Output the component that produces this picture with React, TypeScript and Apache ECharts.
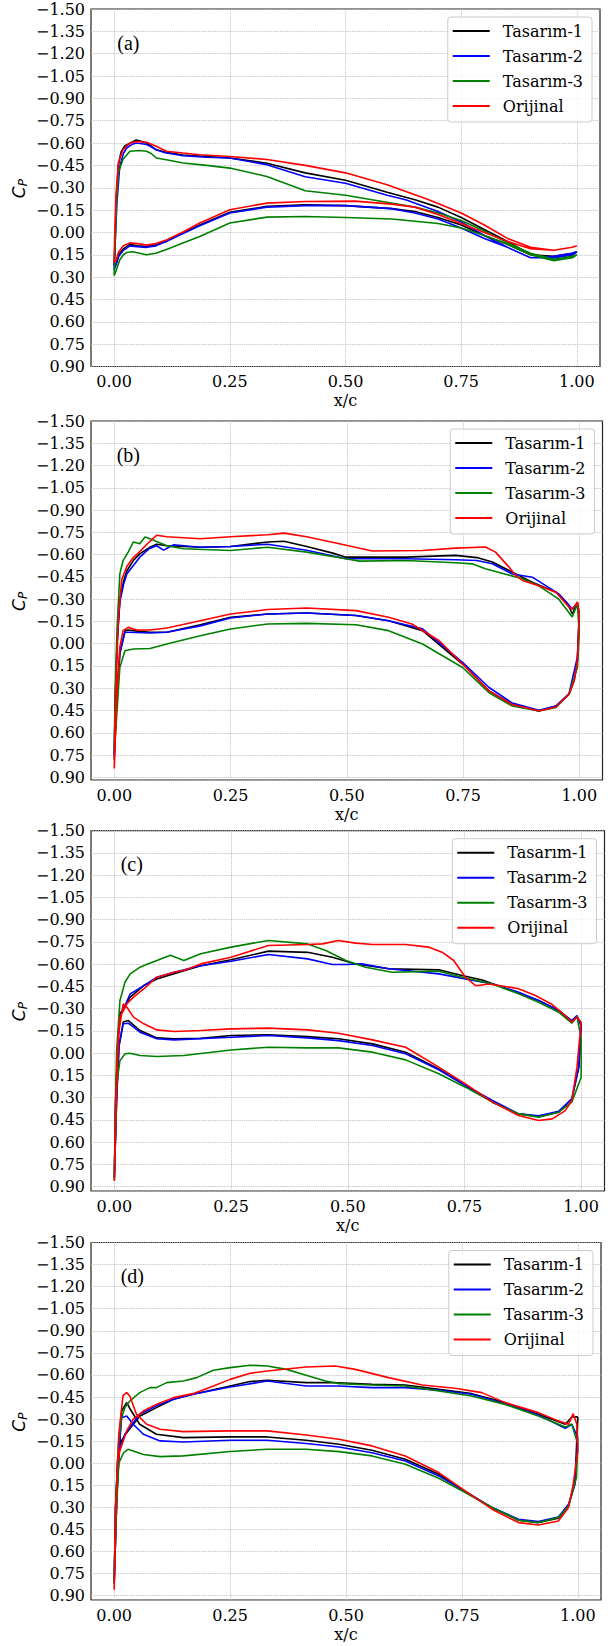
import React, { useEffect, useRef } from "react";
import * as echarts from "echarts";

// ---------- categories / labels ----------
const seriesNames = ["Tasarım-1", "Tasarım-2", "Tasarım-3", "Orijinal"];
const seriesColors = ["#000000", "#0000ff", "#008000", "#ff0000"];
const panelLabels = ["(a)", "(b)", "(c)", "(d)"];
const xTicks = [0, 0.25, 0.5, 0.75, 1.0];
const xMin = -0.05;
const xMax = 1.05;
const yMin = -1.5;
const yStep = 0.15;
const yMaxes = [0.9, 0.918, 0.929, 0.929];

// ---------- panel (a) ----------
const aT1Up = [[0.002,0.05],[0.005,-0.25],[0.009,-0.45],[0.015,-0.54],[0.023,-0.58],[0.035,-0.6],[0.048,-0.62],[0.06,-0.61],[0.07,-0.6],[0.08,-0.58],[0.091,-0.555],[0.11,-0.54],[0.149,-0.52],[0.2,-0.51],[0.25,-0.5],[0.33,-0.465],[0.413,-0.4],[0.5,-0.35],[0.59,-0.27],[0.65,-0.22],[0.7,-0.17],[0.75,-0.1],[0.8,-0.02],[0.85,0.06],[0.9,0.15],[0.95,0.16],[0.99,0.14],[1.0,0.13]];
const aT1Lo = [[0.0,0.22],[0.004,0.21],[0.01,0.15],[0.02,0.11],[0.034,0.08],[0.05,0.09],[0.07,0.095],[0.09,0.085],[0.113,0.06],[0.15,0.0],[0.185,-0.05],[0.25,-0.135],[0.33,-0.175],[0.413,-0.185],[0.5,-0.18],[0.6,-0.16],[0.65,-0.14],[0.7,-0.1],[0.75,-0.05],[0.8,0.02],[0.85,0.08],[0.9,0.15],[0.95,0.17],[0.99,0.15],[1.0,0.13]];
const aT2Up = [[0.002,0.08],[0.006,-0.2],[0.012,-0.44],[0.02,-0.53],[0.027,-0.567],[0.038,-0.59],[0.048,-0.6],[0.06,-0.595],[0.07,-0.59],[0.08,-0.575],[0.091,-0.555],[0.11,-0.535],[0.149,-0.515],[0.2,-0.505],[0.25,-0.5],[0.33,-0.455],[0.413,-0.374],[0.5,-0.33],[0.59,-0.25],[0.63,-0.22],[0.7,-0.14],[0.75,-0.07],[0.8,0.02],[0.85,0.1],[0.9,0.17],[0.95,0.16],[0.99,0.14],[1.0,0.13]];
const aT2Lo = [[0.0,0.25],[0.004,0.22],[0.01,0.16],[0.02,0.12],[0.034,0.09],[0.05,0.095],[0.07,0.1],[0.09,0.09],[0.113,0.06],[0.15,0.005],[0.185,-0.045],[0.25,-0.13],[0.33,-0.17],[0.413,-0.18],[0.5,-0.18],[0.6,-0.16],[0.65,-0.13],[0.7,-0.09],[0.75,-0.03],[0.8,0.04],[0.85,0.1],[0.9,0.17],[0.95,0.17],[0.99,0.15],[1.0,0.13]];
const aT3Up = [[0.002,0.1],[0.005,-0.2],[0.009,-0.4],[0.019,-0.49],[0.034,-0.545],[0.055,-0.55],[0.07,-0.545],[0.08,-0.53],[0.091,-0.5],[0.11,-0.49],[0.149,-0.466],[0.2,-0.45],[0.25,-0.432],[0.33,-0.376],[0.413,-0.28],[0.5,-0.25],[0.557,-0.22],[0.65,-0.17],[0.7,-0.13],[0.75,-0.08],[0.8,-0.01],[0.85,0.07],[0.9,0.14],[0.95,0.18],[0.99,0.16],[1.0,0.15]];
const aT3Lo = [[0.0,0.29],[0.005,0.25],[0.012,0.185],[0.02,0.15],[0.027,0.135],[0.04,0.13],[0.07,0.15],[0.09,0.14],[0.113,0.115],[0.15,0.07],[0.185,0.027],[0.25,-0.063],[0.33,-0.103],[0.413,-0.107],[0.5,-0.1],[0.6,-0.09],[0.7,-0.06],[0.75,-0.03],[0.8,0.02],[0.85,0.08],[0.9,0.15],[0.95,0.19],[0.99,0.17],[1.0,0.15]];
const aOrUp = [[0.001,0.05],[0.004,-0.25],[0.009,-0.466],[0.019,-0.555],[0.034,-0.6],[0.048,-0.61],[0.07,-0.605],[0.091,-0.578],[0.113,-0.545],[0.149,-0.533],[0.185,-0.522],[0.25,-0.51],[0.33,-0.49],[0.413,-0.45],[0.5,-0.4],[0.59,-0.32],[0.68,-0.22],[0.75,-0.13],[0.8,-0.05],[0.85,0.04],[0.9,0.1],[0.95,0.12],[0.99,0.1],[1.0,0.09]];
const aOrLo = [[0.0,0.2],[0.004,0.19],[0.01,0.13],[0.02,0.09],[0.034,0.07],[0.05,0.075],[0.07,0.085],[0.09,0.075],[0.113,0.05],[0.15,-0.005],[0.185,-0.063],[0.25,-0.152],[0.33,-0.197],[0.413,-0.208],[0.52,-0.21],[0.6,-0.19],[0.65,-0.17],[0.7,-0.12],[0.75,-0.06],[0.8,0.0],[0.85,0.06],[0.9,0.11],[0.95,0.12],[0.99,0.1],[1.0,0.09]];

// ---------- panel (b) ----------
const bT1Up = [[0.002,0.4],[0.006,0.0],[0.012,-0.3],[0.02,-0.42],[0.027,-0.49],[0.041,-0.56],[0.055,-0.605],[0.077,-0.65],[0.091,-0.67],[0.113,-0.66],[0.185,-0.65],[0.25,-0.655],[0.33,-0.685],[0.365,-0.69],[0.414,-0.655],[0.47,-0.61],[0.498,-0.583],[0.555,-0.583],[0.627,-0.583],[0.734,-0.595],[0.78,-0.58],[0.813,-0.55],[0.856,-0.482],[0.899,-0.414],[0.95,-0.347],[0.975,-0.27],[0.985,-0.2],[0.996,-0.28],[1.0,-0.2]];
const bT1Lo = [[0.0,0.78],[0.005,0.4],[0.012,0.07],[0.023,-0.088],[0.03,-0.092],[0.05,-0.085],[0.077,-0.077],[0.113,-0.077],[0.185,-0.128],[0.25,-0.178],[0.33,-0.2],[0.414,-0.207],[0.52,-0.19],[0.59,-0.155],[0.663,-0.088],[0.749,0.137],[0.806,0.318],[0.856,0.41],[0.913,0.453],[0.95,0.42],[0.978,0.34],[0.989,0.25],[0.996,0.115],[1.0,-0.2]];
const bT2Up = [[0.002,0.4],[0.006,0.0],[0.012,-0.28],[0.02,-0.4],[0.027,-0.47],[0.055,-0.583],[0.075,-0.64],[0.091,-0.66],[0.106,-0.63],[0.128,-0.667],[0.185,-0.65],[0.25,-0.655],[0.33,-0.67],[0.414,-0.63],[0.498,-0.572],[0.627,-0.572],[0.734,-0.565],[0.78,-0.56],[0.813,-0.538],[0.856,-0.47],[0.899,-0.448],[0.956,-0.336],[0.985,-0.234],[0.996,-0.268],[1.0,-0.18]];
const bT2Lo = [[0.0,0.75],[0.005,0.38],[0.012,0.06],[0.023,-0.077],[0.03,-0.077],[0.077,-0.072],[0.113,-0.077],[0.185,-0.12],[0.25,-0.173],[0.33,-0.2],[0.414,-0.207],[0.52,-0.19],[0.59,-0.155],[0.663,-0.1],[0.749,0.126],[0.806,0.295],[0.856,0.4],[0.913,0.448],[0.95,0.42],[0.978,0.336],[0.996,0.09],[1.0,-0.18]];
const bT3Up = [[0.002,0.3],[0.006,-0.1],[0.012,-0.47],[0.019,-0.56],[0.03,-0.617],[0.041,-0.685],[0.055,-0.673],[0.066,-0.718],[0.077,-0.707],[0.113,-0.66],[0.149,-0.64],[0.25,-0.628],[0.33,-0.65],[0.414,-0.617],[0.498,-0.572],[0.527,-0.556],[0.627,-0.56],[0.734,-0.545],[0.77,-0.538],[0.798,-0.505],[0.84,-0.47],[0.878,-0.437],[0.913,-0.39],[0.956,-0.3],[0.985,-0.18],[0.996,-0.268],[1.0,-0.065]];
const bT3Lo = [[0.0,0.72],[0.005,0.5],[0.012,0.16],[0.023,0.047],[0.041,0.036],[0.077,0.032],[0.113,0.002],[0.185,-0.054],[0.25,-0.099],[0.33,-0.133],[0.414,-0.137],[0.52,-0.128],[0.59,-0.088],[0.663,0.002],[0.749,0.16],[0.806,0.33],[0.856,0.42],[0.913,0.453],[0.95,0.43],[0.978,0.34],[0.996,0.16],[1.0,-0.065]];
const bOrUp = [[0.002,0.5],[0.005,0.16],[0.009,-0.18],[0.016,-0.43],[0.027,-0.52],[0.041,-0.58],[0.055,-0.62],[0.07,-0.67],[0.091,-0.73],[0.113,-0.72],[0.149,-0.714],[0.185,-0.707],[0.25,-0.72],[0.33,-0.734],[0.365,-0.745],[0.414,-0.72],[0.484,-0.673],[0.555,-0.624],[0.663,-0.628],[0.734,-0.644],[0.798,-0.651],[0.82,-0.617],[0.849,-0.516],[0.863,-0.46],[0.878,-0.426],[0.913,-0.39],[0.95,-0.347],[0.978,-0.245],[0.985,-0.234],[0.996,-0.28],[1.0,-0.2]];
const bOrLo = [[0.0,0.84],[0.005,0.385],[0.012,0.025],[0.019,-0.088],[0.03,-0.11],[0.048,-0.092],[0.077,-0.092],[0.113,-0.106],[0.185,-0.155],[0.25,-0.2],[0.33,-0.23],[0.414,-0.24],[0.52,-0.223],[0.59,-0.178],[0.64,-0.133],[0.699,-0.02],[0.749,0.137],[0.806,0.318],[0.856,0.41],[0.913,0.453],[0.95,0.426],[0.978,0.34],[0.989,0.25],[0.996,0.115],[1.0,-0.2]];

// ---------- panel (c) ----------
const cT1Up = [[0.003,0.3],[0.008,-0.1],[0.012,-0.265],[0.034,-0.378],[0.063,-0.456],[0.091,-0.5],[0.128,-0.535],[0.185,-0.59],[0.25,-0.63],[0.33,-0.688],[0.414,-0.68],[0.467,-0.647],[0.517,-0.602],[0.588,-0.569],[0.695,-0.562],[0.745,-0.524],[0.788,-0.494],[0.852,-0.422],[0.909,-0.355],[0.952,-0.288],[0.98,-0.209],[0.991,-0.247],[1.0,-0.2]];
const cT1Lo = [[0.0,0.84],[0.005,0.3],[0.01,-0.05],[0.019,-0.21],[0.03,-0.22],[0.055,-0.153],[0.091,-0.103],[0.128,-0.097],[0.185,-0.1],[0.25,-0.119],[0.33,-0.124],[0.414,-0.112],[0.48,-0.097],[0.553,-0.063],[0.624,-0.007],[0.695,0.106],[0.752,0.218],[0.81,0.33],[0.866,0.409],[0.909,0.427],[0.952,0.398],[0.98,0.308],[0.995,0.094],[1.0,-0.2]];
const cT2Up = [[0.003,0.3],[0.008,-0.1],[0.012,-0.243],[0.034,-0.4],[0.063,-0.456],[0.091,-0.512],[0.128,-0.546],[0.185,-0.59],[0.25,-0.62],[0.33,-0.665],[0.414,-0.636],[0.467,-0.598],[0.496,-0.598],[0.53,-0.602],[0.588,-0.569],[0.695,-0.535],[0.752,-0.501],[0.81,-0.467],[0.866,-0.411],[0.909,-0.355],[0.952,-0.288],[0.98,-0.22],[0.991,-0.254],[1.0,-0.18]];
const cT2Lo = [[0.0,0.84],[0.005,0.3],[0.01,-0.05],[0.019,-0.198],[0.03,-0.202],[0.055,-0.142],[0.091,-0.097],[0.128,-0.09],[0.25,-0.108],[0.33,-0.119],[0.414,-0.103],[0.48,-0.085],[0.553,-0.052],[0.624,0.004],[0.695,0.112],[0.752,0.218],[0.81,0.319],[0.866,0.409],[0.909,0.422],[0.952,0.391],[0.98,0.308],[0.995,0.094],[1.0,-0.18]];
const cT3Up = [[0.002,0.4],[0.005,-0.02],[0.012,-0.355],[0.023,-0.48],[0.034,-0.535],[0.055,-0.58],[0.07,-0.6],[0.091,-0.625],[0.12,-0.66],[0.149,-0.625],[0.185,-0.67],[0.25,-0.715],[0.33,-0.76],[0.414,-0.737],[0.453,-0.692],[0.496,-0.625],[0.538,-0.58],[0.595,-0.546],[0.695,-0.553],[0.745,-0.512],[0.81,-0.467],[0.866,-0.4],[0.909,-0.344],[0.952,-0.276],[0.98,-0.202],[0.991,-0.247],[1.0,-0.1]];
const cT3Lo = [[0.0,0.86],[0.005,0.207],[0.012,0.05],[0.023,0.004],[0.034,0.0],[0.055,0.016],[0.091,0.022],[0.149,0.016],[0.25,-0.022],[0.33,-0.04],[0.414,-0.036],[0.48,-0.036],[0.553,-0.007],[0.624,0.045],[0.695,0.139],[0.752,0.229],[0.81,0.33],[0.866,0.409],[0.909,0.431],[0.952,0.398],[0.98,0.33],[1.0,0.162],[1.0,-0.1]];
const cOrUp = [[0.003,0.3],[0.008,-0.1],[0.012,-0.243],[0.027,-0.333],[0.041,-0.378],[0.063,-0.434],[0.091,-0.512],[0.128,-0.546],[0.149,-0.557],[0.185,-0.602],[0.25,-0.647],[0.33,-0.726],[0.414,-0.733],[0.446,-0.737],[0.48,-0.76],[0.517,-0.742],[0.553,-0.733],[0.624,-0.733],[0.674,-0.715],[0.702,-0.681],[0.727,-0.625],[0.752,-0.512],[0.774,-0.456],[0.78,-0.456],[0.802,-0.467],[0.838,-0.45],[0.866,-0.434],[0.902,-0.389],[0.938,-0.328],[0.966,-0.254],[0.98,-0.209],[0.991,-0.243],[1.0,-0.209]];
const cOrLo = [[0.0,0.86],[0.005,0.2],[0.01,-0.15],[0.019,-0.333],[0.027,-0.31],[0.041,-0.243],[0.063,-0.198],[0.091,-0.157],[0.128,-0.146],[0.185,-0.153],[0.25,-0.164],[0.33,-0.169],[0.414,-0.157],[0.48,-0.135],[0.553,-0.09],[0.624,-0.04],[0.695,0.094],[0.752,0.207],[0.81,0.33],[0.866,0.42],[0.909,0.454],[0.938,0.443],[0.966,0.387],[0.98,0.319],[0.991,0.094],[1.0,-0.209]];

// ---------- panel (d) ----------
const dT1Up = [[0.003,0.3],[0.008,-0.05],[0.015,-0.15],[0.027,-0.208],[0.055,-0.32],[0.091,-0.378],[0.128,-0.435],[0.17,-0.469],[0.25,-0.525],[0.293,-0.555],[0.33,-0.564],[0.414,-0.548],[0.47,-0.548],[0.556,-0.537],[0.628,-0.532],[0.7,-0.503],[0.771,-0.473],[0.843,-0.412],[0.915,-0.333],[0.973,-0.265],[0.987,-0.315],[1.0,-0.315]];
const dT1Lo = [[0.0,0.82],[0.006,0.2],[0.012,-0.15],[0.016,-0.355],[0.027,-0.412],[0.037,-0.355],[0.055,-0.265],[0.091,-0.197],[0.149,-0.174],[0.25,-0.179],[0.33,-0.179],[0.414,-0.156],[0.485,-0.129],[0.556,-0.088],[0.628,-0.027],[0.7,0.075],[0.757,0.192],[0.815,0.301],[0.872,0.387],[0.915,0.403],[0.958,0.374],[0.98,0.29],[0.994,0.12],[1.0,-0.315]];
const dT2Up = [[0.003,0.3],[0.008,-0.05],[0.015,-0.12],[0.023,-0.197],[0.055,-0.333],[0.091,-0.39],[0.128,-0.435],[0.17,-0.469],[0.25,-0.518],[0.33,-0.559],[0.414,-0.525],[0.485,-0.525],[0.556,-0.514],[0.628,-0.514],[0.7,-0.496],[0.771,-0.469],[0.843,-0.405],[0.915,-0.328],[0.973,-0.238],[0.987,-0.265],[1.0,-0.174]];
const dT2Lo = [[0.0,0.8],[0.006,0.2],[0.012,-0.15],[0.016,-0.31],[0.027,-0.321],[0.041,-0.265],[0.063,-0.197],[0.099,-0.152],[0.149,-0.145],[0.25,-0.156],[0.33,-0.156],[0.414,-0.134],[0.485,-0.111],[0.556,-0.072],[0.628,-0.016],[0.7,0.086],[0.757,0.192],[0.815,0.301],[0.872,0.38],[0.915,0.396],[0.958,0.365],[0.98,0.278],[0.994,0.143],[1.0,-0.174]];
const dT3Up = [[0.003,0.3],[0.009,-0.13],[0.016,-0.31],[0.023,-0.378],[0.034,-0.423],[0.055,-0.48],[0.077,-0.514],[0.091,-0.514],[0.113,-0.548],[0.149,-0.559],[0.178,-0.582],[0.214,-0.632],[0.25,-0.65],[0.293,-0.666],[0.33,-0.661],[0.372,-0.638],[0.414,-0.598],[0.456,-0.559],[0.485,-0.541],[0.556,-0.532],[0.628,-0.525],[0.7,-0.491],[0.771,-0.457],[0.843,-0.4],[0.915,-0.321],[0.973,-0.247],[0.987,-0.265],[1.0,-0.13]];
const dT3Lo = [[0.0,0.8],[0.005,0.3],[0.01,0.0],[0.02,-0.07],[0.03,-0.095],[0.063,-0.06],[0.099,-0.045],[0.149,-0.05],[0.25,-0.08],[0.33,-0.095],[0.414,-0.095],[0.485,-0.079],[0.556,-0.05],[0.628,0.007],[0.7,0.102],[0.757,0.199],[0.815,0.301],[0.872,0.387],[0.915,0.403],[0.958,0.369],[0.98,0.29],[0.997,0.097],[1.0,-0.13]];
const dOrUp = [[0.003,0.3],[0.008,0.0],[0.012,-0.084],[0.027,-0.22],[0.041,-0.3],[0.063,-0.355],[0.091,-0.4],[0.128,-0.446],[0.17,-0.473],[0.214,-0.525],[0.25,-0.57],[0.293,-0.611],[0.33,-0.627],[0.414,-0.654],[0.477,-0.661],[0.52,-0.638],[0.592,-0.582],[0.664,-0.532],[0.735,-0.51],[0.793,-0.48],[0.843,-0.412],[0.879,-0.378],[0.915,-0.344],[0.958,-0.288],[0.98,-0.265],[0.99,-0.337],[0.998,-0.265],[1.0,-0.084]];
const dOrLo = [[0.0,0.86],[0.005,0.2],[0.01,-0.2],[0.019,-0.46],[0.027,-0.48],[0.034,-0.455],[0.048,-0.333],[0.07,-0.265],[0.099,-0.231],[0.149,-0.215],[0.25,-0.22],[0.33,-0.22],[0.414,-0.192],[0.485,-0.163],[0.556,-0.118],[0.628,-0.05],[0.7,0.063],[0.757,0.188],[0.815,0.312],[0.872,0.403],[0.915,0.419],[0.958,0.392],[0.98,0.3],[0.99,0.143],[1.0,-0.084]];

const panelData = [
  [[aT1Up, aT1Lo], [aT2Up, aT2Lo], [aT3Up, aT3Lo], [aOrUp, aOrLo]],
  [[bT1Up, bT1Lo], [bT2Up, bT2Lo], [bT3Up, bT3Lo], [bOrUp, bOrLo]],
  [[cT1Up, cT1Lo], [cT2Up, cT2Lo], [cT3Up, cT3Lo], [cOrUp, cOrLo]],
  [[dT1Up, dT1Lo], [dT2Up, dT2Lo], [dT3Up, dT3Lo], [dOrUp, dOrLo]],
];

// ---------- layout (pixels) ----------
const W = 612;
const H = 1646;
const grids = [
  { left: 91, top: 9, width: 509, height: 357.5 },
  { left: 91, top: 421, width: 511.5, height: 359 },
  { left: 91, top: 830.7, width: 513.5, height: 360.3 },
  { left: 91, top: 1242.5, width: 510, height: 357.5 },
];
const labelX = [117.3, 116.7, 120.7, 120.7];
const SERIF = "DejaVu Serif";

function fmtY(v: number) {
  const r = Math.round(v * 100) / 100;
  if (Math.abs(r) < 1e-9) return "0.00";
  return (r < 0 ? "\u2212" : "") + Math.abs(r).toFixed(2);
}

function buildOption() {
  const xAxis = grids.map((_, i) => ({
    type: "value",
    gridIndex: i,
    min: xMin,
    max: xMax,
    axisLine: { show: false },
    axisTick: { show: false, customValues: xTicks },
    axisLabel: {
      customValues: xTicks,
      formatter: (v: number) => v.toFixed(2),
      fontFamily: SERIF,
      fontSize: 16,
      color: "#000",
      margin: 7,
    },
    splitLine: { show: true, lineStyle: { color: "#b8b8b8", type: "dotted", width: 0.9 } },
    name: "x/c",
    nameLocation: "middle",
    nameGap: 26,
    nameTextStyle: { fontFamily: SERIF, fontSize: 16, color: "#000" },
  }));
  const yAxis = grids.map((_, i) => ({
    type: "value",
    gridIndex: i,
    inverse: true,
    min: yMin,
    max: yMaxes[i],
    interval: yStep,
    axisLine: { show: false },
    axisTick: { show: false },
    axisLabel: {
      formatter: fmtY,
      fontFamily: SERIF,
      fontSize: 16,
      color: "#000",
      margin: 6,
      showMinLabel: true,
      showMaxLabel: i === 0,
    },
    splitLine: { show: true, lineStyle: { color: "#b8b8b8", type: "dotted", width: 0.9 } },
  }));
  const series: any[] = [];
  panelData.forEach((panel, i) => {
    panel.forEach(([up, lo], k) => {
      series.push({
        type: "line",
        name: seriesNames[k],
        xAxisIndex: i,
        yAxisIndex: i,
        data: [...up.slice().reverse(), ...lo],
        showSymbol: false,
        symbol: "none",
        color: seriesColors[k],
        lineStyle: { color: seriesColors[k], width: 1.6 },
        itemStyle: { color: seriesColors[k] },
        silent: true,
        z: 2 + k,
      });
    });
  });
  const legend = grids.map((g) => ({
    data: seriesNames,
    orient: "vertical",
    right: W - (g.left + g.width) + 8,
    top: g.top + 8,
    icon: "rect",
    itemWidth: 37,
    itemHeight: 2,
    itemGap: 9,
    padding: [6, 9, 8, 5],
    selectedMode: false,
    backgroundColor: "rgba(255,255,255,0.8)",
    borderColor: "#cccccc",
    borderWidth: 1,
    borderRadius: 3,
    textStyle: { fontFamily: SERIF, fontSize: 16, color: "#000", lineHeight: 16, padding: [0, 0, 0, 8] },
  }));
  const graphic: any[] = [];
  grids.forEach((g, i) => {
    graphic.push({
      type: "text",
      x: labelX[i],
      y: g.top + 33.5,
      style: {
        text: panelLabels[i],
        font: "20px Liberation Serif",
        fill: "#000",
        verticalAlign: "middle",
        align: "left",
      },
      z: 100,
    });
    graphic.push({
      type: "group",
      x: 19,
      y: g.top + g.height / 2 + 1.5,
      rotation: Math.PI / 2,
      children: [
        { type: "text", x: -9, y: 0, style: { text: "C", font: "italic 17px DejaVu Sans", fill: "#000", verticalAlign: "middle", align: "left" } },
        { type: "text", x: 3, y: 4, style: { text: "P", font: "italic 12px DejaVu Sans", fill: "#000", verticalAlign: "middle", align: "left" } },
      ],
    });
  });
  return {
    animation: false,
    backgroundColor: "#ffffff",
    grid: grids.map((g) => ({ ...g, show: true, borderColor: "#222", borderWidth: 1.2, backgroundColor: "transparent", containLabel: false })),
    xAxis,
    yAxis,
    legend,
    series,
    graphic,
  };
}

export default function App() {
  const ref = useRef<HTMLDivElement>(null);
  useEffect(() => {
    if (!ref.current) return;
    const chart = echarts.init(ref.current, null, { renderer: "svg" });
    chart.setOption(buildOption() as any);
    return () => chart.dispose();
  }, []);
  return <div ref={ref} style={{ position: "absolute", left: 0, top: 0, width: W, height: H }} />;
}
